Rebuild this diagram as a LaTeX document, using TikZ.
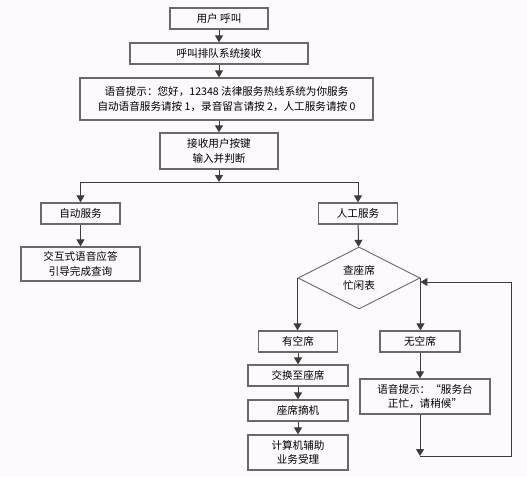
\documentclass[tikz,border=0pt]{standalone}
\usepackage{fontspec}
\setmainfont{Noto Sans CJK SC}
\usetikzlibrary{shapes.geometric,arrows.meta}
\definecolor{bg}{RGB}{253,249,253}
\definecolor{boxline}{RGB}{105,105,105}
\definecolor{conn}{RGB}{60,60,60}
\begin{document}
\begin{tikzpicture}[x=1pt,y=-1pt,
  font=\fontsize{10.6pt}{14.5pt}\selectfont,
  box/.style={draw=boxline,line width=1.3pt,rectangle,inner sep=0pt,align=center},
  dia/.style={draw=boxline,line width=0.9pt,diamond,inner sep=0pt,align=center,minimum width=122pt,minimum height=62pt},
  conline/.style={draw=conn,line width=1pt},
  arr/.style={conline,-{Triangle[length=7pt,width=8pt]}}]
\fill[bg] (0,0) rectangle (527,477);
\useasboundingbox (0,0) rectangle (527,477);
\node[box,minimum width=98pt,minimum height=21pt] (n1) at (219,18.5) {用户 呼叫};
\node[box,minimum width=178pt,minimum height=21pt] (n2) at (219,53.5) {呼叫排队系统接收};
\node[box,minimum width=293pt,minimum height=42pt] (n3) at (226.5,99) {语音提示：您好，12348 法律服务热线系统为你服务\\自动语音服务请按 1，录音留言请按 2，人工服务请按 0};
\node[box,minimum width=118pt,minimum height=36pt] (n4) at (219,151) {接收用户按键\\输入并判断};
\coordinate (split) at (219,182);
\coordinate (sl) at (80.5,182);
\coordinate (sr) at (358,182);
\node[box,minimum width=79pt,minimum height=21pt] (n5) at (80.5,213.5) {自动服务};
\node[box,minimum width=79pt,minimum height=21pt] (n6) at (358,213.5) {人工服务};
\node[box,minimum width=119pt,minimum height=34pt] (n7) at (80.5,264) {交互式语音应答\\引导完成查询};
\node[dia] (d) at (359,278) {查座席\\忙闲表};
\node[box,minimum width=79pt,minimum height=21pt] (n8) at (298,341.5) {有空席};
\node[box,minimum width=80pt,minimum height=21pt] (n9) at (420,341.5) {无空席};
\node[box,minimum width=100pt,minimum height=21pt] (n10) at (298,375.5) {交换至座席};
\node[box,minimum width=100pt,minimum height=21pt] (n11) at (298,410.5) {座席摘机};
\node[box,minimum width=100pt,minimum height=35pt] (n12) at (298,452.5) {计算机辅助\\业务受理};
\node[box,minimum width=130pt,minimum height=35pt] (n13) at (425,396.5) {语音提示：“服务台\\正忙，请稍候”};
\coordinate (c1) at (420,456);
\coordinate (c2) at (511,456);
\coordinate (c3) at (511,282);
\path[arr] (n1) -- (n2);
\path[arr] (n2) -- (n2 |- n3.north);
\path[arr] (n3.south -| n4) -- (n4);
\path[arr] (n4) -- (split);
\path[conline] (sl) -- (sr);
\path[arr] (sl) -- (n5);
\path[arr] (sr) -- (n6);
\path[arr] (n5) -- (n7);
\path[arr] (n6) -- (d);
\path[arr] (d.west) -- (d.west |- n8.north);
\path[arr] (d.east) -- (d.east |- n9.north);
\path[arr] (n8) -- (n10);
\path[arr] (n10) -- (n11);
\path[arr] (n11) -- (n12);
\path[arr] (n9) -- (n9 |- n13.north);
\path[arr] (n9 |- n13.south) -- (c1);
\path[arr] (c1) -- (c2) -- (c3) -- (c3 -| d.east);
\end{tikzpicture}
\end{document}
